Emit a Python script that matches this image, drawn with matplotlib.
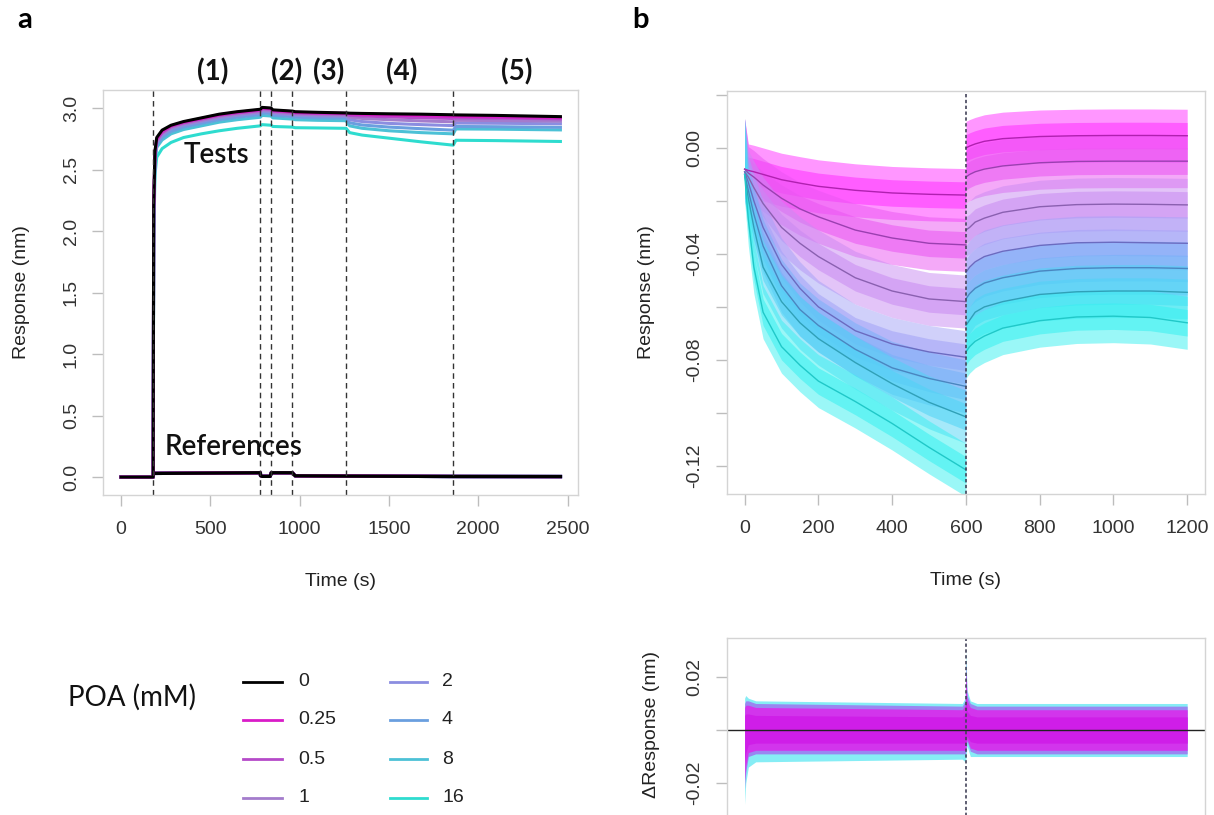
import numpy as np
import matplotlib
matplotlib.use("Agg")
import matplotlib.pyplot as plt
from matplotlib.lines import Line2D

plt.rcParams['font.family'] = ['Liberation Sans', 'DejaVu Sans']

# concentrations and colours
conc_labels = ['0', '0.25', '0.5', '1', '2', '4', '8', '16']
line_cols = ['#000000', '#d91cc8', '#b54ac9', '#a47ccc', '#8b8de0', '#6a9fdf', '#4cc1d6', '#2edccf']
band_cols = ['#000000', '#ff2eff', '#ea55f2', '#c98af2', '#a2a2f7', '#74b2f8', '#4ed4f6', '#36f0f0']
fit_cols = ['#000000', '#b020b0', '#9a3fb0', '#8a60b0', '#6b6bc0', '#4a86c0', '#30a0b8', '#20c8c8']

# panel a : full sensorgrams (time in s, response in nm)
t_a = [0, 180, 183, 190, 200, 230, 280, 350, 450, 550, 650, 780, 790, 840, 850, 960,
       975, 1100, 1260, 1280, 1350, 1500, 1680, 1860, 1875, 2100, 2460]
tests = [
    [0, 0, 2.2, 2.65, 2.76, 2.82, 2.86, 2.89, 2.92, 2.95, 2.97, 2.99, 3.005, 3.0, 2.985, 2.975,
     2.97, 2.965, 2.96, 2.958, 2.956, 2.953, 2.95, 2.945, 2.944, 2.94, 2.93],
    [0, 0, 2.2, 2.64, 2.75, 2.81, 2.855, 2.885, 2.915, 2.945, 2.965, 2.985, 3.0, 2.995, 2.98, 2.97,
     2.965, 2.96, 2.957, 2.952, 2.948, 2.943, 2.938, 2.932, 2.932, 2.928, 2.922],
    [0, 0, 2.2, 2.63, 2.74, 2.80, 2.85, 2.88, 2.91, 2.94, 2.96, 2.98, 2.995, 2.99, 2.975, 2.965,
     2.96, 2.955, 2.952, 2.94, 2.935, 2.928, 2.92, 2.915, 2.92, 2.918, 2.912],
    [0, 0, 2.2, 2.62, 2.73, 2.79, 2.84, 2.87, 2.90, 2.93, 2.95, 2.97, 2.985, 2.98, 2.965, 2.955,
     2.95, 2.945, 2.942, 2.925, 2.915, 2.905, 2.895, 2.888, 2.90, 2.898, 2.893],
    [0, 0, 2.15, 2.6, 2.72, 2.78, 2.83, 2.86, 2.89, 2.92, 2.94, 2.96, 2.975, 2.97, 2.955, 2.945,
     2.94, 2.935, 2.932, 2.905, 2.89, 2.875, 2.865, 2.857, 2.878, 2.876, 2.872],
    [0, 0, 2.1, 2.58, 2.70, 2.76, 2.81, 2.845, 2.875, 2.905, 2.925, 2.945, 2.96, 2.955, 2.94, 2.93,
     2.925, 2.92, 2.917, 2.88, 2.862, 2.845, 2.832, 2.82, 2.85, 2.848, 2.843],
    [0, 0, 2.05, 2.55, 2.68, 2.74, 2.79, 2.825, 2.855, 2.885, 2.905, 2.925, 2.94, 2.935, 2.92, 2.91,
     2.905, 2.9, 2.897, 2.855, 2.835, 2.815, 2.8, 2.79, 2.83, 2.828, 2.822],
    [0, 0, 1.9, 2.45, 2.6, 2.67, 2.72, 2.76, 2.79, 2.815, 2.835, 2.855, 2.865, 2.86, 2.85, 2.845,
     2.84, 2.838, 2.835, 2.80, 2.78, 2.755, 2.725, 2.698, 2.738, 2.735, 2.728],
]
t_ref = [0, 180, 181, 780, 781, 790, 835, 840, 841, 960, 975, 1260, 1860, 2460]
ref = [0, 0, 0.03, 0.035, 0.012, 0.006, 0.006, 0.03, 0.035, 0.035, 0.01, 0.008, 0.005, 0.004]
phase_bounds = [180, 780, 840, 960, 1260, 1860]
phase_names = ['(1)', '(2)', '(3)', '(4)', '(5)']
phase_label_x = [515, 929, 1165, 1573, 2217]

# panel b : reference-subtracted data with fits (0.25 .. 16 mM)
t_assoc = [0, 10, 25, 50, 100, 150, 200, 300, 400, 500, 600]
t_diss = [600, 610, 625, 650, 700, 800, 900, 1000, 1100, 1200]
fit_assoc = [
    [-0.008, -0.0085, -0.009, -0.010, -0.012, -0.0133, -0.0145, -0.016, -0.017, -0.0175, -0.0178],
    [-0.008, -0.0095, -0.011, -0.014, -0.019, -0.023, -0.026, -0.031, -0.034, -0.036, -0.0366],
    [-0.009, -0.011, -0.015, -0.021, -0.030, -0.036, -0.041, -0.049, -0.054, -0.057, -0.058],
    [-0.009, -0.013, -0.020, -0.030, -0.044, -0.053, -0.060, -0.069, -0.074, -0.077, -0.079],
    [-0.010, -0.016, -0.025, -0.037, -0.052, -0.061, -0.067, -0.076, -0.083, -0.087, -0.090],
    [-0.010, -0.019, -0.030, -0.045, -0.058, -0.066, -0.072, -0.081, -0.089, -0.096, -0.1015],
    [-0.010, -0.027, -0.045, -0.062, -0.075, -0.082, -0.088, -0.0957, -0.104, -0.113, -0.1215],
]
fit_diss = [
    [0.000, 0.0007, 0.0015, 0.0025, 0.0035, 0.0043, 0.0046, 0.0047, 0.0047, 0.0046],
    [-0.011, -0.010, -0.009, -0.008, -0.0068, -0.0056, -0.0051, -0.005, -0.005, -0.005],
    [-0.031, -0.030, -0.028, -0.0265, -0.0243, -0.0222, -0.0214, -0.0212, -0.0213, -0.0215],
    [-0.047, -0.045, -0.043, -0.041, -0.039, -0.0368, -0.0358, -0.0356, -0.0358, -0.036],
    [-0.057, -0.055, -0.053, -0.051, -0.049, -0.0465, -0.0455, -0.0452, -0.0452, -0.0455],
    [-0.067, -0.065, -0.062, -0.060, -0.058, -0.0553, -0.0543, -0.054, -0.054, -0.0545],
    [-0.077, -0.075, -0.073, -0.071, -0.068, -0.0652, -0.0638, -0.0635, -0.064, -0.066],
]
data_start = 0.011      # first data point of every trace (spike at t=0)
noise_outer = 0.010     # approx spread of the raw traces around the fit
noise_inner = 0.005

# residuals envelope
t_res = [0, 3, 10, 30, 590, 598, 600, 603, 612, 630, 1200]
res_outer_up = [0.012, 0.013, 0.012, 0.011, 0.010, 0.012, 0.030, 0.015, 0.011, 0.010, 0.010]
res_outer_lo = [-0.028, -0.020, -0.014, -0.012, -0.011, -0.012, -0.011, -0.006, -0.010, -0.010, -0.010]
res_inner_up = [0.010, 0.011, 0.011, 0.010, 0.009, 0.011, 0.026, 0.013, 0.010, 0.009, 0.009]
res_inner_lo = [-0.022, -0.016, -0.010, -0.009, -0.009, -0.009, -0.008, -0.004, -0.008, -0.009, -0.009]


def r_style(ax):
    for s in ax.spines.values():
        s.set_color('#d4d4d4')
        s.set_linewidth(1.0)
    ax.tick_params(colors='#bdbdbd', labelcolor='#333333', labelsize=14, length=8, width=1)
    ax.tick_params(axis='x', pad=11)
    ax.tick_params(axis='y', pad=9, labelrotation=90)
    for lab in ax.get_yticklabels():
        lab.set_va('center')


fig = plt.figure(figsize=(12.14, 8.15), dpi=100)

# ---------- panel a
ax_a = fig.add_axes([0.0852, 0.3926, 0.3909, 0.4969])
for i in range(len(conc_labels) - 1, -1, -1):
    ax_a.plot(t_ref, ref, color=line_cols[i], lw=2.4, solid_joinstyle='round')
for i in range(len(conc_labels) - 1, -1, -1):
    ax_a.plot(t_a, tests[i], color=line_cols[i], lw=2.2)
for b in phase_bounds:
    ax_a.axvline(b, color='#333333', lw=1.0, ls=(0, (4, 3)))
ax_a.set_xlim(-98.4, 2558.4)
ax_a.set_ylim(-0.146, 3.146)
ax_a.set_xticks([0, 500, 1000, 1500, 2000, 2500])
ax_a.set_yticks([0, 0.5, 1.0, 1.5, 2.0, 2.5, 3.0])
ax_a.set_yticklabels(['0.0', '0.5', '1.0', '1.5', '2.0', '2.5', '3.0'])
r_style(ax_a)
ax_a.set_xlabel('Time (s)', fontsize=14, color='#222222', labelpad=25)
ax_a.set_ylabel('Response (nm)', fontsize=14, color='#222222')
ax_a.yaxis.set_label_coords(-0.155, 0.5)
for name, x in zip(phase_names, phase_label_x):
    ax_a.text(x, 1.044, name, transform=ax_a.get_xaxis_transform(), ha='center', va='center',
              fontsize=20, fontweight='bold', family=['Lato', 'DejaVu Sans'], color='#111111')
ax_a.text(533, 2.62, 'Tests', ha='center', va='center', fontsize=20, fontweight='semibold',
          family=['Lato', 'DejaVu Sans'], color='#111111')
ax_a.text(628, 0.245, 'References', ha='center', va='center', fontsize=20, fontweight='semibold',
          family=['Lato', 'DejaVu Sans'], color='#111111')

# ---------- panel b
ax_b = fig.add_axes([0.5988, 0.3939, 0.3937, 0.4945])
for i in range(len(fit_assoc)):
    fa = np.array(fit_assoc[i])
    fd = np.array(fit_diss[i])
    col = band_cols[i + 1]
    up_a = fa + noise_outer
    up_a[0] = data_start
    ax_b.fill_between(t_assoc, fa - noise_outer, up_a, color=col, alpha=0.5, lw=0)
    ax_b.fill_between(t_assoc, fa - noise_inner, fa + noise_inner, color=col, alpha=0.55, lw=0)
    ax_b.fill_between(t_diss, fd - noise_outer, fd + noise_outer, color=col, alpha=0.5, lw=0)
    ax_b.fill_between(t_diss, fd - noise_inner, fd + noise_inner, color=col, alpha=0.55, lw=0)
for i in range(len(fit_assoc)):
    ax_b.plot(t_assoc, fit_assoc[i], color=fit_cols[i + 1], lw=1.0)
    ax_b.plot(t_diss, fit_diss[i], color=fit_cols[i + 1], lw=1.0)
ax_b.axvline(600, color='#44445a', lw=1.2, ls=(0, (2, 1.5)))
ax_b.set_xlim(-48, 1248)
ax_b.set_ylim(-0.1306, 0.0215)
ax_b.set_xticks([0, 200, 400, 600, 800, 1000, 1200])
yt = [-0.12, -0.10, -0.08, -0.06, -0.04, -0.02, 0.0, 0.02]
ax_b.set_yticks(yt)
ax_b.set_yticklabels(['-0.12', '', '-0.08', '', '-0.04', '', '0.00', ''])
r_style(ax_b)
ax_b.set_xlabel('Time (s)', fontsize=14, color='#222222', labelpad=25)
ax_b.set_ylabel('Response (nm)', fontsize=14, color='#222222')
ax_b.yaxis.set_label_coords(-0.15, 0.5)

# ---------- residuals
ax_r = fig.add_axes([0.5988, -0.0184, 0.3937, 0.2356])
ax_r.fill_between(t_res, res_outer_lo, res_outer_up, color='#5ee8f2', alpha=0.75, lw=0)
ax_r.fill_between(t_res, res_inner_lo, res_inner_up, color='#a06cf0', alpha=0.8, lw=0)
ax_r.fill_between(t_res, np.array(res_inner_lo) * 0.85, np.array(res_inner_up) * 0.85,
                  color='#d92cec', alpha=0.9, lw=0)
ax_r.fill_between(t_res, np.array(res_inner_lo) * 0.55, np.array(res_inner_up) * 0.55,
                  color='#cf1ee8', alpha=1.0, lw=0)
ax_r.axhline(0, color='#222222', lw=1.0)
ax_r.axvline(600, color='#44445a', lw=1.2, ls=(0, (2, 1.5)))
ax_r.set_xlim(-48, 1248)
ax_r.set_ylim(-0.0377, 0.0347)
ax_r.set_yticks([-0.02, 0.0, 0.02])
ax_r.set_yticklabels(['-0.02', '', '0.02'])
ax_r.set_xticks([])
r_style(ax_r)
ax_r.spines['bottom'].set_visible(False)
ax_r.set_ylabel('\u0394Response (nm)', fontsize=14, color='#222222')
ax_r.yaxis.set_label_coords(-0.14, 0.55)

# ---------- panel letters and legend
fig.text(25 / 1214, 1 - 20 / 815, 'a', fontsize=21, fontweight='bold', ha='center', va='center',
         family=['Lato', 'DejaVu Sans'])
fig.text(641 / 1214, 1 - 20 / 815, 'b', fontsize=21, fontweight='bold', ha='center', va='center',
         family=['Lato', 'DejaVu Sans'])
fig.text(132 / 1214, 1 - 697 / 815, 'POA (mM)', fontsize=20, ha='center', va='center',
         family=['Lato', 'DejaVu Sans'], color='#111111')

leg_x = [(243, 282, 298), (390, 427, 442)]
leg_y = [682, 720, 759, 798]
for i, lab in enumerate(conc_labels):
    x0, x1, xt = leg_x[i // 4]
    y = 1 - leg_y[i % 4] / 815
    fig.add_artist(Line2D([x0 / 1214, x1 / 1214], [y, y], color=line_cols[i], lw=2.0))
    fig.text(xt / 1214, y, lab, fontsize=14, ha='left', va='center', color='#222222')

fig.savefig('out.png', dpi=100)
